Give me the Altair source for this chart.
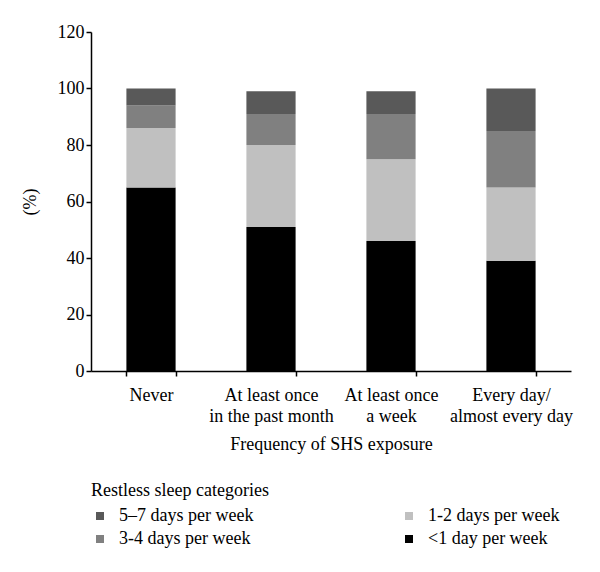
import altair as alt
import pandas as pd

exposure = ["Never", "At least once|in the past month", "At least once|a week", "Every day/|almost every day"]
categories = ["5–7 days per week", "3-4 days per week", "1-2 days per week", "<1 day per week"]
stack_order = {"<1 day per week": 0, "1-2 days per week": 1, "3-4 days per week": 2, "5–7 days per week": 3}
colors = ["#595959", "#808080", "#c0c0c0", "#000000"]

lt1 = [65, 51, 46, 39]
d12 = [21, 29, 29, 26]
d34 = [8, 11, 16, 20]
d57 = [6, 8, 8, 15]

rows = []
for i, e in enumerate(exposure):
    for cat, vals in [("<1 day per week", lt1), ("1-2 days per week", d12),
                      ("3-4 days per week", d34), ("5–7 days per week", d57)]:
        rows.append({"exposure": e, "category": cat, "value": vals[i], "ord": stack_order[cat]})
df = pd.DataFrame(rows)

FONT = "Liberation Serif"

chart = alt.Chart(df).mark_bar().encode(
    x=alt.X("exposure:N", sort=exposure,
            scale=alt.Scale(paddingInner=0.59, paddingOuter=0.295),
            axis=alt.Axis(title="Frequency of SHS exposure", labelAngle=0,
                          labelExpr="split(datum.label, '|')", tickBand="extent",
                          labelLineHeight=21, labelPadding=10, titlePadding=10)),
    y=alt.Y("value:Q", stack="zero",
            scale=alt.Scale(domain=[0, 120]),
            axis=alt.Axis(title="(%)", values=[0, 20, 40, 60, 80, 100, 120], grid=False,
                          titlePadding=18)),
    color=alt.Color("category:N",
                    scale=alt.Scale(domain=categories, range=colors),
                    legend=alt.Legend(title="Restless sleep categories", orient="none",
                                      legendX=0, legendY=450, columns=2, columnPadding=146,
                                      symbolType="square", symbolSize=64, symbolStrokeWidth=0,
                                      labelOffset=10, rowPadding=5, titlePadding=7)),
    order=alt.Order("ord:Q"),
).properties(
    width=480, height=339,
    autosize=alt.AutoSizeParams(type="none"),
    padding={"left": 83, "top": 24, "right": 21, "bottom": 193},
).configure_view(stroke=None).configure_axis(
    labelFont=FONT, titleFont=FONT, labelFontSize=18, titleFontSize=18,
    labelColor="#000", titleColor="#000", titleFontWeight="normal",
    domainColor="#000", tickColor="#000", tickSize=5, domainWidth=1.5, tickWidth=1.5,
).configure_legend(
    labelFont=FONT, titleFont=FONT, labelFontSize=18, titleFontSize=18,
    labelColor="#000", titleColor="#000", titleFontWeight="normal", labelLimit=300,
)

chart.save("out.html", embed_options={"renderer": "svg", "actions": False})
